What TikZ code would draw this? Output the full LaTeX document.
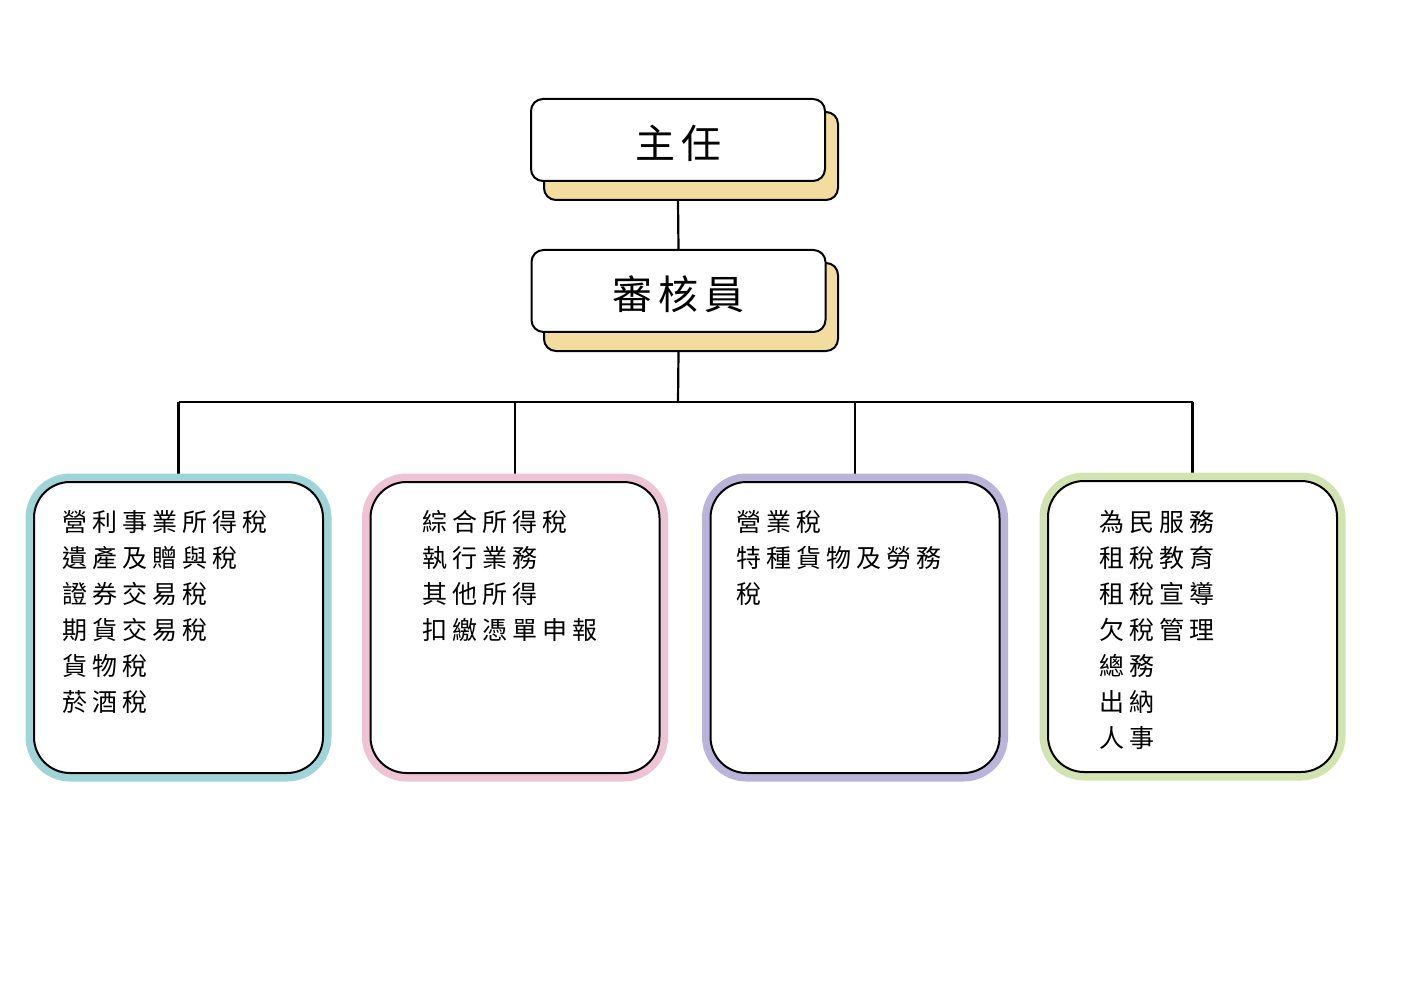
\documentclass[tikz,border=0pt]{standalone}
\usepackage{fontspec}
\newfontfamily\cjkbox[LetterSpace=20]{Noto Sans CJK TC}
\newfontfamily\cjktitle[LetterSpace=15]{Noto Sans CJK TC}
\definecolor{shadowtan}{HTML}{F2DC9F}
\definecolor{ubteal}{HTML}{9FD4D9}
\definecolor{ubpink}{HTML}{EEC4D4}
\definecolor{ubpurple}{HTML}{BAB4DA}
\definecolor{ubgreen}{HTML}{D0E3B1}
\pgfdeclarelayer{background}
\pgfsetlayers{background,main}
\begin{document}
\begin{tikzpicture}[x=1pt,y=-1pt,
  titlebox/.style={draw=black, fill=white, line width=2pt, rounded corners=12pt,
    minimum width=294pt, minimum height=82pt, inner sep=0pt,
    text height=40pt, text depth=2pt,
    font=\cjktitle\fontsize{40}{48}\selectfont},
  shadowbox/.style={draw=black, fill=shadowtan, line width=2pt, rounded corners=12pt,
    minimum width=294pt, minimum height=88pt, inner sep=0pt},
  unitbox/.style={draw=black, fill=white, line width=2pt, rounded corners=36pt,
    minimum width=289pt, minimum height=291pt, inner sep=0pt,
    preaction={draw=#1, line width=17pt}},
  boxtext/.style={anchor=base west, align=left, inner sep=0pt,
    font=\cjkbox\fontsize{25}{36}\selectfont},
  conn/.style={draw=black, line width=2.2pt}
]
\useasboundingbox (0,0) rectangle (1403,992);

% top boxes
\node[shadowbox] (shadow1) at (691,156) {};
\node[titlebox] (chief) at (678,140) {主任};
\node[shadowbox] (shadow2) at (691,307) {};
\node[titlebox] (auditor) at (678.5,291) {審核員};

% unit boxes
\node[unitbox=ubteal] (u1) at (178.5,627.5) {};
\node[unitbox=ubpink] (u2) at (515,627.5) {};
\node[unitbox=ubpurple] (u3) at (855,627.5) {};
\node[unitbox=ubgreen] (u4) at (1192.5,626.5) {};

% text blocks (base anchor = baseline of last line)
\node[boxtext] (t1) at (62,711) {營利事業所得稅\\遺產及贈與稅\\證券交易稅\\期貨交易稅\\貨物稅\\菸酒稅};
\node[boxtext] (t2) at (422,639) {綜合所得稅\\執行業務\\其他所得\\扣繳憑單申報};
\node[boxtext] (t3) at (736,603) {營業稅\\特種貨物及勞務\\稅};
\node[boxtext] (t4) at (1099,747) {為民服務\\租稅教育\\租稅宣導\\欠稅管理\\總務\\出納\\人事};

\coordinate (bus) at (678,402);

\begin{pgfonlayer}{background}
\draw[conn] (chief.south |- shadow1.south) -- (auditor.north);
\draw[conn] (auditor.south |- shadow2.south) -- (bus);
\draw[conn] (u1.north |- bus) -- (u4.north |- bus);
\draw[conn] (u1.north |- bus) -- (u1.north);
\draw[conn] (u2.north |- bus) -- (u2.north);
\draw[conn] (u3.north |- bus) -- (u3.north);
\draw[conn] (u4.north |- bus) -- (u4.north);
\end{pgfonlayer}
\end{tikzpicture}
\end{document}
